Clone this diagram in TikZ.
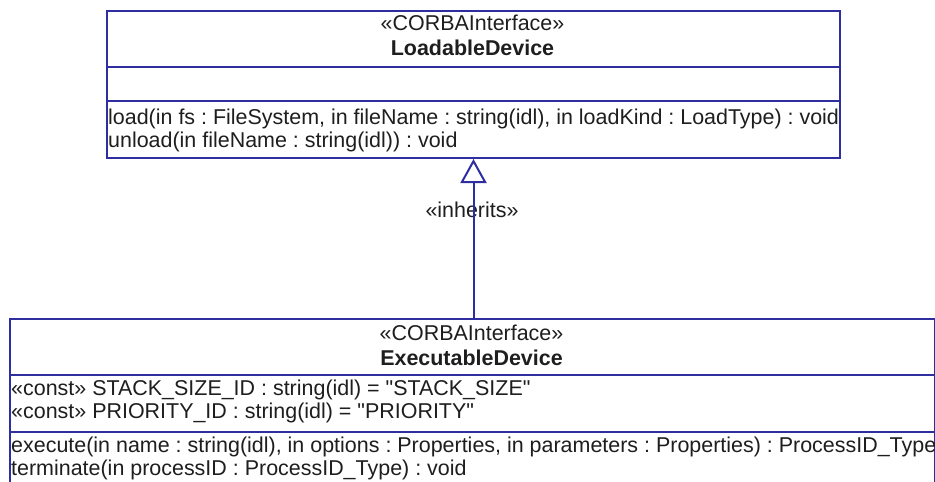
\documentclass[tikz,border=0pt]{standalone}
\usepackage{fontspec}
\setmainfont{Liberation Sans}
\usetikzlibrary{arrows.meta}
\frenchspacing
\definecolor{umlblue}{HTML}{2E2EA0}
\definecolor{umltext}{HTML}{1E1E1E}
\tikzset{
  classbox/.style={draw=umlblue, line width=2pt, fill=white, rectangle, inner sep=0pt, anchor=north west},
  divider/.style={draw=umlblue, line width=2pt},
  ctext/.style={anchor=base, inner sep=0pt, text=umltext},
  ltext/.style={anchor=base west, inner sep=0pt, text=umltext},
  inh/.style={draw=umlblue, line width=2pt, -{Triangle[open, length=24pt, width=26pt]}}
}
\begin{document}
\begin{tikzpicture}[x=1pt, y=-1pt, font=\fontsize{21.45}{24}\selectfont]
\useasboundingbox[fill=white] (0,0) rectangle (935,482);

% LoadableDevice
\node[classbox, minimum width=733pt, minimum height=147pt] (load) at (106,10) {};
\draw[divider] (load.west |- 0,67) -- (load.east |- 0,67);
\draw[divider] (load.west |- 0,101) -- (load.east |- 0,101);
\node[ctext] (lst) at (472.5,30) {«CORBAInterface»};
\node[ctext, font=\fontsize{21.45}{24}\selectfont\bfseries] (lname) at (472.5,55.5) {LoadableDevice};
\node[ltext] (lop1) at (108,124) {load(in fs : FileSystem, in fileName : string(idl), in loadKind : LoadType) : void};
\node[ltext] (lop2) at (108,147) {unload(in fileName : string(idl)) : void};

% ExecutableDevice
\node[classbox, minimum width=925pt, minimum height=175pt] (exec) at (9,318) {};
\draw[divider] (exec.west |- 0,375) -- (exec.east |- 0,375);
\draw[divider] (exec.west |- 0,432) -- (exec.east |- 0,432);
\node[ctext] (est) at (471.5,340) {«CORBAInterface»};
\node[ctext, font=\fontsize{21.45}{24}\selectfont\bfseries] (ename) at (471.5,365) {ExecutableDevice};
\node[ltext] (ea1) at (11,395) {«const» STACK\_SIZE\_ID : string(idl) = \textquotedbl STACK\_SIZE\textquotedbl};
\node[ltext] (ea2) at (11,418) {«const» PRIORITY\_ID : string(idl) = \textquotedbl PRIORITY\textquotedbl};
\node[ltext] (eo1) at (11,452) {execute(in name : string(idl), in options : Properties, in parameters : Properties) : ProcessID\_Type};
\node[ltext] (eo2) at (11,475) {terminate(in processID : ProcessID\_Type) : void};

% inheritance
\node[ctext] (inhlabel) at (472,217.5) {«inherits»};
\draw[inh] (load.south |- exec.north) -- (load.south);
\end{tikzpicture}
\end{document}
